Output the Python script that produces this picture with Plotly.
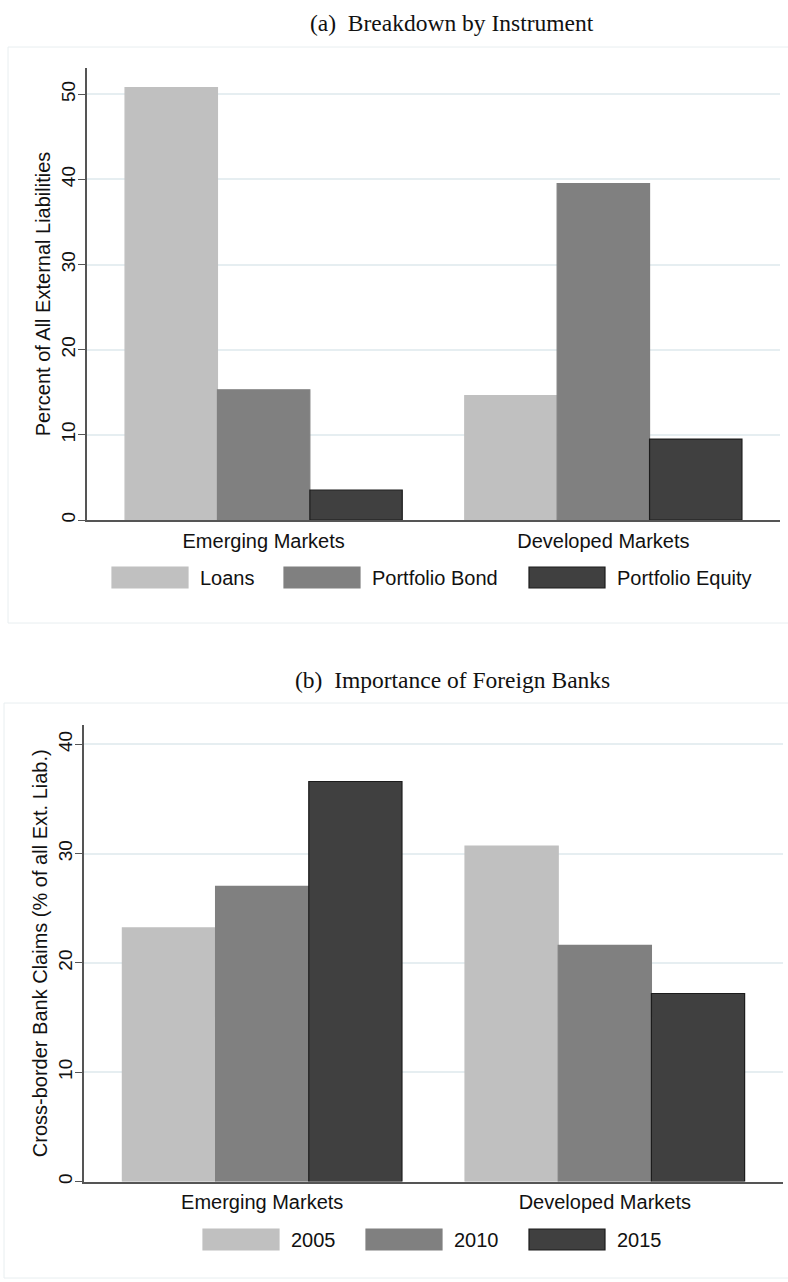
import plotly.graph_objects as go

W, H = 788, 1282

# ---------------- data ----------------
categories = ["Emerging Markets", "Developed Markets"]

# Panel (a): Breakdown by Instrument
instr_names = ["Loans", "Portfolio Bond", "Portfolio Equity"]
loans = [50.8, 14.6]
portfolio_bond = [15.3, 39.5]
portfolio_equity = [3.5, 9.5]
a_series = [loans, portfolio_bond, portfolio_equity]
a_ticks = [0, 10, 20, 30, 40, 50]

# Panel (b): Importance of Foreign Banks
year_names = ["2005", "2010", "2015"]
y2005 = [23.2, 30.7]
y2010 = [27.0, 21.6]
y2015 = [36.6, 17.2]
b_series = [y2005, y2010, y2015]
b_ticks = [0, 10, 20, 30, 40]

title_a = "(a)  Breakdown by Instrument"
title_b = "(b)  Importance of Foreign Banks"
ytitle_a = "Percent of All External Liabilities"
ytitle_b = "Cross-border Bank Claims (% of all Ext. Liab.)"

# ---------------- style ----------------
fills = ["#c0c0c0", "#808080", "#404040"]
lines = ["#c0c0c0", "#808080", "#1c1c1c"]
SANS = "Liberation Sans, Arial, sans-serif"
SERIF = "Liberation Serif, Times New Roman, serif"
GRID = "#e6eef1"
AXIS = "#555555"
BOX = "#e8eef0"


def px(x):
    return x / W


def py(y):
    return 1 - y / H


fig = go.Figure()
for i, (name, vals) in enumerate(zip(instr_names, a_series)):
    fig.add_trace(go.Bar(x=categories, y=vals, name=name, xaxis="x", yaxis="y",
                         marker=dict(color=fills[i], line=dict(color=lines[i], width=1.2)),
                         showlegend=False))
for i, (name, vals) in enumerate(zip(year_names, b_series)):
    fig.add_trace(go.Bar(x=categories, y=vals, name=name, xaxis="x2", yaxis="y2",
                         marker=dict(color=fills[i], line=dict(color=lines[i], width=1.2)),
                         showlegend=False))

xcommon = dict(type="category", range=[-0.52, 1.52], showline=True, linecolor=AXIS,
               linewidth=1.5, ticks="", showgrid=False, zeroline=False,
               tickfont=dict(family=SANS, size=20, color="#111111"),
               ticklabelstandoff=2, automargin=False, fixedrange=True)
ycommon = dict(showline=True, linecolor=AXIS, linewidth=1.5, ticks="outside",
               ticklen=7, tickwidth=1.2, tickcolor=AXIS, showgrid=True,
               gridcolor=GRID, gridwidth=1.5, zeroline=False, tickangle=-90,
               tickfont=dict(family=SANS, size=19, color="#111111"),
               ticklabelstandoff=-4,
               automargin=False, fixedrange=True)

fig.update_layout(
    width=W, height=H,
    margin=dict(l=0, r=0, t=0, b=0),
    paper_bgcolor="white", plot_bgcolor="white",
    barmode="group", bargap=0.184, bargroupgap=0,
    xaxis=dict(xcommon, domain=[px(87), px(780)], anchor="y"),
    yaxis=dict(ycommon, domain=[py(520), py(68)], anchor="x",
               range=[0, 53.09], tickvals=a_ticks,
               title=dict(text=ytitle_a, font=dict(family=SANS, size=20, color="#111111"),
                          standoff=2)),
    xaxis2=dict(xcommon, domain=[px(84), px(783)], anchor="y2"),
    yaxis2=dict(ycommon, domain=[py(1181.5), py(725)], anchor="x2",
                range=[0, 41.77], tickvals=b_ticks,
                title=dict(text=ytitle_b, font=dict(family=SANS, size=20, color="#111111"),
                           standoff=2)),
)

# panel frames
shapes = [
    dict(type="rect", xref="paper", yref="paper", x0=px(8), x1=px(790), y0=py(623), y1=py(47),
         line=dict(color=BOX, width=1), layer="below"),
    dict(type="rect", xref="paper", yref="paper", x0=px(4), x1=px(790), y0=py(1278), y1=py(703),
         line=dict(color=BOX, width=1), layer="below"),
]
annotations = [
    dict(text=title_a, xref="paper", yref="paper", x=px(452), y=py(23), xanchor="center",
         yanchor="middle", showarrow=False, font=dict(family=SERIF, size=23.5, color="#111111")),
    dict(text=title_b, xref="paper", yref="paper", x=px(452), y=py(680), xanchor="center",
         yanchor="middle", showarrow=False, font=dict(family=SERIF, size=23.5, color="#111111")),
]

# legends (drawn manually so swatches match the wide Stata keys)
legend_a_x = [112, 284, 529]
legend_b_x = [203, 366, 529]
for names, xs, ytop, ybot in [(instr_names, legend_a_x, 567, 588),
                              (year_names, legend_b_x, 1229, 1250)]:
    for i, (name, x0) in enumerate(zip(names, xs)):
        shapes.append(dict(type="rect", xref="paper", yref="paper",
                           x0=px(x0), x1=px(x0 + 76), y0=py(ybot), y1=py(ytop),
                           fillcolor=fills[i], line=dict(color=lines[i], width=1.2)))
        annotations.append(dict(text=name, xref="paper", yref="paper", x=px(x0 + 86),
                                y=py((ytop + ybot) / 2), xanchor="left", yanchor="middle",
                                showarrow=False,
                                font=dict(family=SANS, size=20, color="#111111")))

fig.update_layout(shapes=shapes, annotations=annotations)
fig.write_html("out.html", config={"displayModeBar": False},
               post_script="document.body.style.margin='0';document.body.style.overflow='hidden';")
